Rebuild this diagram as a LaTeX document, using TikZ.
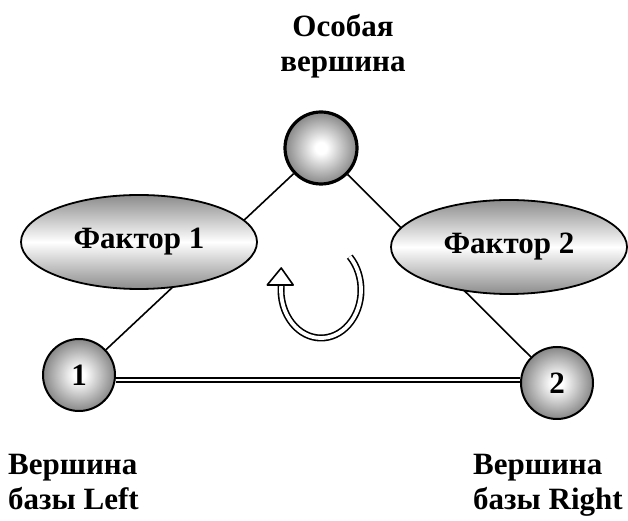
\documentclass[tikz,border=0pt]{standalone}
\usepackage{fontspec}
\setmainfont{Liberation Serif}
\usetikzlibrary{shapes.geometric}
\usetikzlibrary{calc}
\pgfdeclareradialshading{orb}{\pgfpoint{0bp}{0bp}}{color(0bp)=(white); color(4bp)=(white);
    color(25bp)=(black!47); color(50bp)=(black!47)}

\begin{document}
\begin{tikzpicture}[x=1pt, y=1pt, line join=round,
        bigfont/.style={font=\bfseries\fontsize{31}{35}\selectfont},
        vertex/.style={circle, draw, line width=2pt, minimum size=72pt, inner sep=0pt,
            shading=orb, bigfont},
        factor/.style={ellipse, draw, line width=1.8pt, minimum width=236pt, minimum height=94pt,
            inner sep=0pt, top color=black!45, bottom color=black!45, middle color=white, bigfont},
        caption/.style={inner sep=0pt, bigfont}]
    \useasboundingbox (0,0) rectangle (628,521);
    % vertices of the triangle
    \node[vertex, line width=3.2pt] (S) at (321,373) {};
    \node[vertex] (A) at (79,146) {1};
    \node[vertex] (B) at (557,138) {2};
    \coordinate (base) at (0,141);
    \draw[line width=1.6pt] (S)--(A) (S)--(B);
    \draw[double, double distance=2.6pt, line width=1.9pt] (A.east |- base)--(B.west |- base);
    % factors
    \node[factor] (F1) at (139,279) {Фактор 1};
    \node[factor] (F2) at (509,274) {Фактор 2};
    % rotation arrow
    \coordinate (R) at (321,231);
    \draw[double, double distance=3.8pt, line width=1.6pt]
        (R) ++(44:40 and 48) arc[start angle=44, end angle=-186, x radius=40, y radius=48] coordinate (T);
    \draw[line width=1.6pt, fill=white] ($(T)+(-14,0)$)--($(T)+(0,17)$)--($(T)+(12,0)$)--cycle;
    % captions
    \node[caption, anchor=north, align=center] (top) at (343,507) {Особая\\вершина};
    \node[caption, anchor=north west, align=left] (left) at (8,67) {Вершина\\базы Left};
    \node[caption, anchor=north west, align=left] (right) at (473,67) {Вершина\\базы Right};
\end{tikzpicture}
\end{document}
